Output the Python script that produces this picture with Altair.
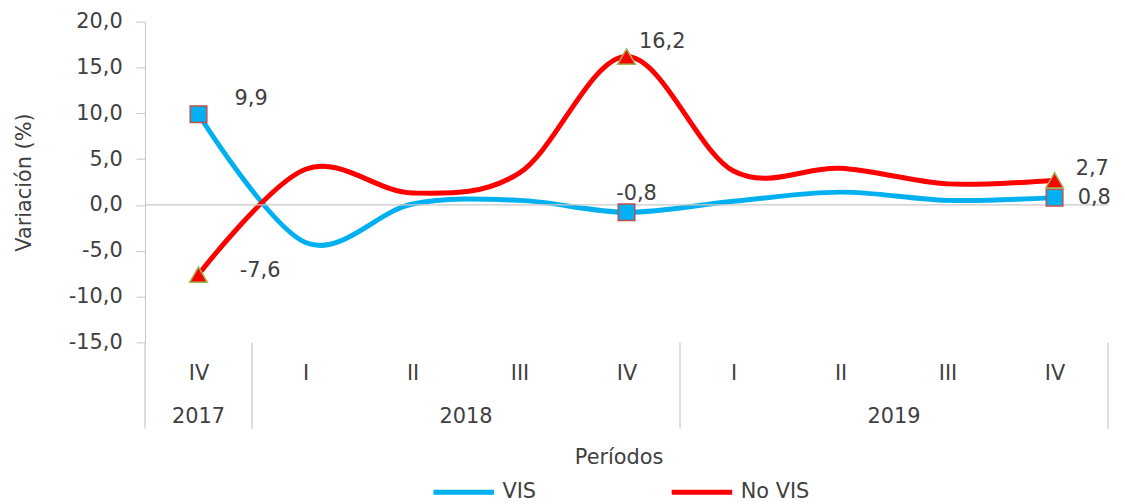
import json
import altair as alt
import pandas as pd

# ---------------- data ----------------
quarters = ["IV", "I", "II", "III", "IV", "I", "II", "III", "IV"]
years = ["2017", "2018", "2018", "2018", "2018", "2019", "2019", "2019", "2019"]
vis = [9.9, -4.1, 0.1, 0.5, -0.8, 0.4, 1.4, 0.5, 0.8]
no_vis = [-7.6, 3.9, 1.3, 3.5, 16.2, 3.7, 4.0, 2.3, 2.7]
series_names = ["VIS", "No VIS"]
series_colors = ["#00B0F0", "#FF0000"]
y_ticks = [-15, -10, -5, 0, 5, 10, 15, 20]
marked_idx = [0, 4, 8]

rows = []
for i, (q, yr) in enumerate(zip(quarters, years)):
    rows.append(dict(idx=i, quarter=q, year=yr, serie="VIS", value=vis[i]))
    rows.append(dict(idx=i, quarter=q, year=yr, serie="No VIS", value=no_vis[i]))
df = pd.DataFrame(rows)

per = pd.DataFrame({"idx": range(len(quarters)), "quarter": quarters, "year": years})
yr_df = per.groupby("year", sort=False)["idx"].agg(["min", "max"]).reset_index()
yr_df["center"] = (yr_df["min"] + yr_df["max"]) / 2
bounds = sorted(set(list(yr_df["min"] - 0.5) + list(yr_df["max"] + 0.5)))
bdf = pd.DataFrame({"b": bounds})

# ---------------- style ----------------
W, H = 970, 323
FONT = "DejaVu Sans"
FS = 21
TXT = "#404040"
GRID = "#c8c8c8"

xs = alt.Scale(domain=[-0.5, len(quarters) - 0.5], nice=False, zero=False)
ys = alt.Scale(domain=[-15, 20], nice=False, zero=False)

fmt = "replace(replace(format(%s,'.1f'),'.',','),'\u2212','-')"
q_expr = json.dumps(quarters) + "[datum.value]"

x_axis = alt.Axis(values=list(range(len(quarters))), labelExpr=q_expr,
                  ticks=False, domain=False, grid=False,
                  labelFontSize=FS, labelColor=TXT, labelFont=FONT,
                  labelPadding=20, title="Períodos", titleFont=FONT,
                  titleFontSize=FS, titleFontWeight="normal", titleColor=TXT,
                  titlePadding=64, titleX=477)
y_axis = alt.Axis(values=y_ticks, labelExpr=fmt % "datum.value",
                  grid=False, domain=True, domainColor=GRID, tickColor=GRID,
                  tickSize=9, labelPadding=14, labelFontSize=FS,
                  labelColor=TXT, labelFont=FONT, title="Variación (%)",
                  titleFont=FONT, titleFontSize=FS, titleFontWeight="normal",
                  titleColor=TXT, titleX=-121, titleY=H / 2, titleAngle=270,
                  titleAlign="center", titleBaseline="middle")


def X(field):
    return alt.X(field, scale=xs, axis=x_axis, title="Períodos")


def Y(field):
    return alt.Y(field, scale=ys, axis=y_axis, title="Variación (%)")


lines = alt.Chart(df).mark_line(interpolate="cardinal", strokeWidth=5).encode(
    x=X("idx:Q"),
    y=Y("value:Q"),
    color=alt.Color("serie:N", scale=alt.Scale(domain=series_names, range=series_colors),
                    sort=series_names,
                    legend=alt.Legend(orient="none", legendX=288, legendY=441,
                                      direction="horizontal", title=None,
                                      symbolType="stroke", symbolSize=3721,
                                      symbolStrokeWidth=5, labelFontSize=FS,
                                      labelFont=FONT, labelColor=TXT, labelOffset=6,
                                      columnPadding=126, padding=0)),
    detail="serie:N",
)

zero = alt.Chart(pd.DataFrame({"z": [0]})).mark_rule(color=GRID, strokeWidth=1.2).encode(
    y=Y("z:Q"))

seps = alt.Chart(bdf).mark_rule(color=GRID, strokeWidth=1.2).encode(
    x=X("b:Q"), y=alt.value(H), y2=alt.value(H + 87))

year_text = alt.Chart(yr_df).mark_text(fontSize=FS, font=FONT, color=TXT,
                                       baseline="middle").encode(
    x=X("center:Q"), y=alt.value(H + 75), text="year:N")

marks = df[df["idx"].isin(marked_idx)]
sq = alt.Chart(marks).transform_filter(alt.datum.serie == "VIS").mark_point(
    shape="square", filled=True, size=280, fill="#00B0F0", stroke="#C0504D",
    strokeWidth=1.5, opacity=1).encode(x=X("idx:Q"), y=Y("value:Q"))
tri = alt.Chart(marks).transform_filter(alt.datum.serie == "No VIS").mark_point(
    shape="triangle-up", filled=True, size=320, fill="#FF0000", stroke="#9BBB59",
    strokeWidth=1.5, opacity=1).encode(x=X("idx:Q"), y=Y("value:Q"))

label_offsets = [
    ("VIS", 0, 53, -15), ("No VIS", 0, 62, -4),
    ("No VIS", 4, 36, -15), ("VIS", 4, 10, -18),
    ("No VIS", 8, 38, -11), ("VIS", 8, 40, 0),
]
labels = []
for s, i, dx, dy in label_offsets:
    labels.append(
        alt.Chart(marks).transform_filter(
            (alt.datum.serie == s) & (alt.datum.idx == i)
        ).transform_calculate(lab=fmt % "datum.value").mark_text(
            fontSize=FS, font=FONT, color=TXT, dx=dx, dy=dy, baseline="middle",
            align="center").encode(x=X("idx:Q"), y=Y("value:Q"), text="lab:N"))

chart = alt.layer(lines, zero, seps, year_text, sq, tri, *labels).properties(
    width=W, height=H,
    autosize=alt.AutoSizeParams(type="none"),
    padding={"left": 138, "top": 12, "right": 9, "bottom": 161},
).configure(font=FONT).configure_view(strokeWidth=0)

chart.save("out.html", embed_options={"renderer": "svg", "actions": False})
